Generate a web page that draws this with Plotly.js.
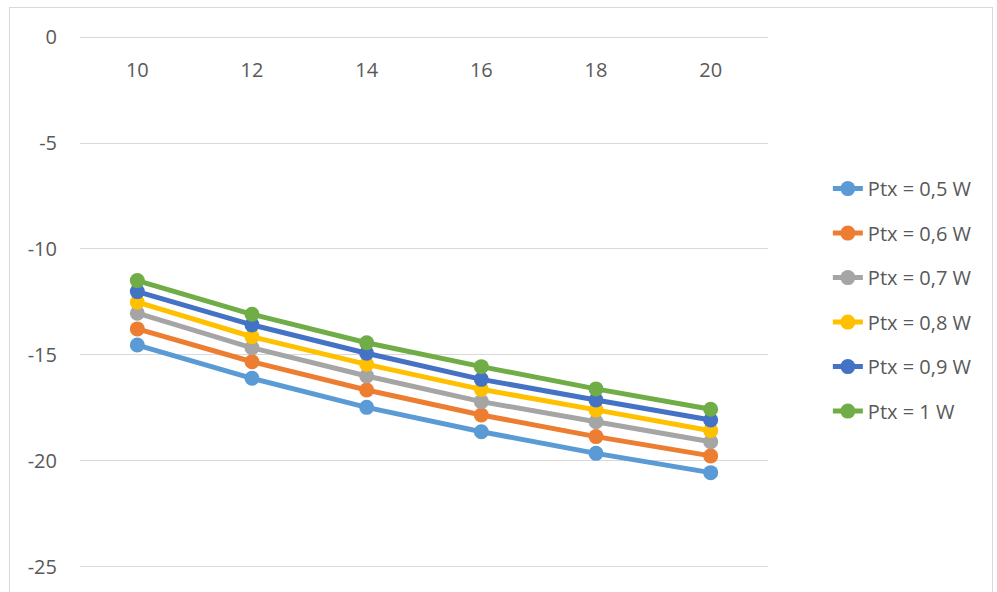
<!DOCTYPE html>
<html>
<head>
<meta charset="utf-8">
<script src="https://cdn.plot.ly/plotly-3.0.1.min.js"></script>
<style>
  html, body { margin: 0; padding: 0; background: #fff; }
  #wrap { position: relative; width: 997px; height: 592px; overflow: hidden; }
  #chart { width: 997px; height: 592px; }
  #frame { position: absolute; left: 9px; top: 7px; width: 982px; height: 620px; border: 1px solid #d9d9d9; pointer-events: none; }
</style>
</head>
<body>
<div id="wrap"><div id="chart"></div><div id="frame"></div></div>
<script>
const categories = ["10", "12", "14", "16", "18", "20"];
const seriesNames = ["Ptx = 0,5 W", "Ptx = 0,6 W", "Ptx = 0,7 W", "Ptx = 0,8 W", "Ptx = 0,9 W", "Ptx = 1 W"];
const ptx05 = [-14.53, -16.10, -17.47, -18.62, -19.64, -20.55];
const ptx06 = [-13.77, -15.32, -16.65, -17.83, -18.85, -19.76];
const ptx07 = [-13.03, -14.66, -15.99, -17.20, -18.15, -19.09];
const ptx08 = [-12.51, -14.14, -15.44, -16.62, -17.59, -18.57];
const ptx09 = [-12.01, -13.58, -14.92, -16.15, -17.12, -18.07];
const ptx10 = [-11.49, -13.08, -14.42, -15.55, -16.60, -17.56];
const yTickVals = [0, -5, -10, -15, -20, -25];
const yTickText = ["0", "-5", "-10", "-15", "-20", "-25"];

const seriesValues = [ptx05, ptx06, ptx07, ptx08, ptx09, ptx10];
const colors = ["#5B9BD5", "#ED7D31", "#A5A5A5", "#FFC000", "#4472C4", "#70AD47"];

const traces = seriesValues.map((vals, i) => ({
  type: "scatter",
  mode: "lines+markers",
  name: seriesNames[i],
  legendgroup: "g" + i,
  x: categories,
  y: vals,
  line: { color: colors[i], width: 5 },
  marker: { color: colors[i], size: 15 },
  cliponaxis: false
}));

const font = { family: "'Open Sans', Lato, sans-serif", size: 20, color: "#595959" };

const layout = {
  width: 997,
  height: 592,
  margin: { l: 80, r: 228.5, t: 37, b: 0 },
  paper_bgcolor: "#ffffff",
  plot_bgcolor: "#ffffff",
  font: font,
  showlegend: true,
  legend: {
    x: 1.087, xanchor: "left",
    y: 0.762, yanchor: "top",
    font: font,
    tracegroupgap: 15.5,
    bgcolor: "rgba(0,0,0,0)"
  },
  xaxis: {
    type: "category",
    range: [-0.5, 5.5],
    anchor: "free",
    position: 1,
    side: "bottom",
    showgrid: false,
    zeroline: false,
    showline: true,
    linecolor: "#d9d9d9",
    linewidth: 1,
    ticks: "",
    ticklabelstandoff: 15,
    tickfont: font
  },
  yaxis: {
    range: [-26.18, 0],
    tickvals: yTickVals,
    ticktext: yTickText,
    showgrid: true,
    gridcolor: "#d9d9d9",
    gridwidth: 1,
    zeroline: false,
    showline: false,
    ticks: "",
    ticklabelstandoff: 22,
    tickfont: font
  }
};

Plotly.newPlot("chart", traces, layout, { displayModeBar: false, staticPlot: true });
</script>
</body>
</html>
